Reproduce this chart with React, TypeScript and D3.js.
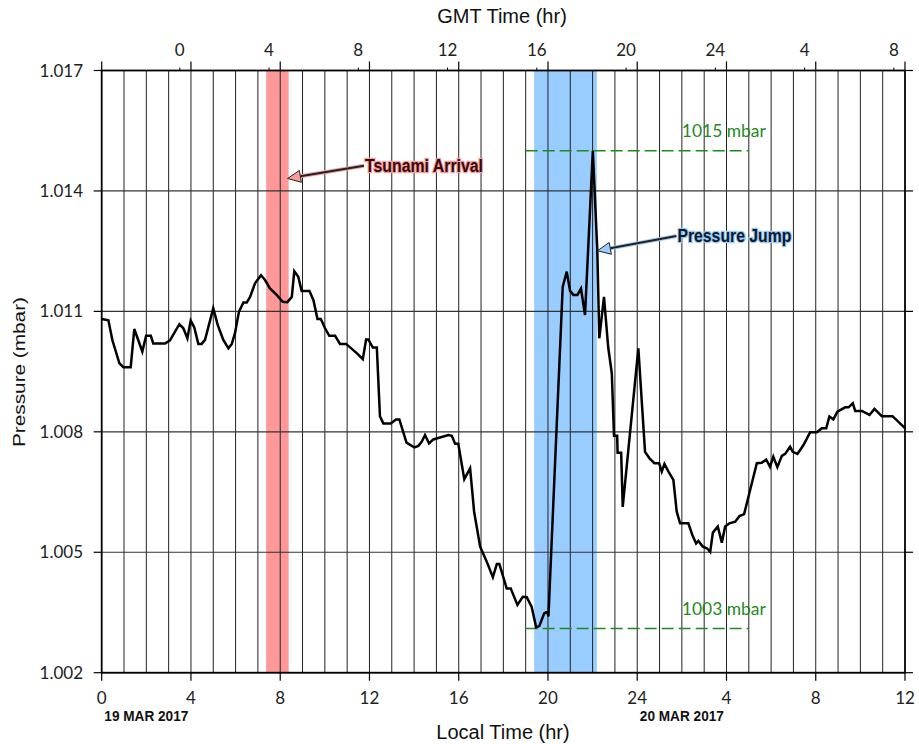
import React from "react";
import * as d3 from "d3";

// local time (hours since 19 MAR 2017 00:00) and pressure
const hours = [
  0.0, 0.3, 0.48, 0.79, 0.97, 1.3, 1.46, 1.82, 1.99, 2.2, 2.31, 2.84, 3.06, 3.48, 3.66, 3.84, 3.99, 4.15,
  4.33, 4.48, 4.63, 5.0, 5.2, 5.45, 5.68, 5.83, 5.97, 6.15, 6.35, 6.5, 6.65, 6.87, 7.14, 7.32, 7.54, 7.84,
  8.11, 8.32, 8.52, 8.63, 8.81, 8.96, 9.31, 9.49, 9.67, 9.82, 10.01, 10.2, 10.46, 10.68, 10.95, 11.43,
  11.7, 11.85, 11.95, 12.15, 12.33, 12.47, 12.62, 12.95, 13.19, 13.34, 13.66, 14.01, 14.19, 14.34, 14.49,
  14.67, 14.86, 15.16, 15.54, 15.69, 15.84, 15.98, 16.25, 16.51, 16.69, 16.96, 17.26, 17.53, 17.71, 17.82,
  18.15, 18.33, 18.63, 18.87, 19.05, 19.27, 19.47, 19.61, 19.83, 19.97, 20.02, 20.66, 20.84, 20.99, 21.14,
  21.32, 21.48, 21.66, 22.01, 22.21, 22.3, 22.51, 22.7, 22.86, 22.96, 23.1, 23.12, 23.28, 23.35, 24.05,
  24.35, 24.55, 24.77, 24.98, 25.1, 25.22, 25.4, 25.62, 25.77, 25.92, 26.29, 26.47, 26.64, 26.74, 26.94,
  27.12, 27.27, 27.39, 27.61, 27.79, 27.94, 28.13, 28.39, 28.58, 28.79, 29.06, 29.36, 29.58, 29.78, 29.95,
  30.1, 30.28, 30.48, 30.63, 30.85, 30.97, 31.18, 31.45, 31.75, 32.05, 32.27, 32.47, 32.61, 32.79, 32.97,
  33.32, 33.47, 33.66, 33.77, 34.07, 34.41, 34.63, 34.96, 35.44, 36.0,
];
const pressure = [
  1.01081, 1.01078, 1.01028, 1.00971, 1.00961, 1.00961, 1.01056, 1.01, 1.01039, 1.01039, 1.0102, 1.0102,
  1.01028, 1.01068, 1.01058, 1.01033, 1.01077, 1.0106, 1.01019, 1.01019, 1.01029, 1.01108, 1.01066,
  1.01029, 1.01008, 1.01019, 1.01045, 1.01099, 1.01122, 1.01122, 1.01136, 1.0117, 1.0119, 1.01178,
  1.01157, 1.01141, 1.01124, 1.01123, 1.01136, 1.012, 1.01186, 1.01151, 1.01151, 1.01128, 1.01081,
  1.01081, 1.01058, 1.01039, 1.01039, 1.01019, 1.01019, 1.00996, 1.00981, 1.0103, 1.0103, 1.0101, 1.0101,
  1.00839, 1.00821, 1.00821, 1.00831, 1.00831, 1.00773, 1.00761, 1.00765, 1.00775, 1.00792, 1.00771,
  1.00781, 1.00786, 1.00792, 1.0079, 1.0077, 1.0077, 1.00682, 1.00709, 1.00601, 1.00514, 1.00476,
  1.00438, 1.00471, 1.00471, 1.0041, 1.0041, 1.00369, 1.00389, 1.00388, 1.00364, 1.00313, 1.00316,
  1.00348, 1.00352, 1.0034, 1.01161, 1.01199, 1.01151, 1.01141, 1.01141, 1.01157, 1.01091, 1.015,
  1.01253, 1.01033, 1.01136, 1.0101, 1.00946, 1.0079, 1.0079, 1.00748, 1.00748, 1.00613, 1.01008,
  1.0075, 1.00734, 1.00722, 1.00722, 1.00701, 1.0072, 1.00701, 1.0068, 1.00601, 1.00572, 1.00572,
  1.00543, 1.00522, 1.00528, 1.00514, 1.0051, 1.00501, 1.00549, 1.00564, 1.00524, 1.00564, 1.00572,
  1.00576, 1.0059, 1.00595, 1.00655, 1.00722, 1.00723, 1.00731, 1.00713, 1.00738, 1.00712, 1.0074,
  1.00745, 1.00763, 1.0075, 1.00745, 1.00767, 1.00799, 1.00799, 1.00809, 1.00809, 1.00838, 1.00831,
  1.0085, 1.00861, 1.00861, 1.00871, 1.00852, 1.00852, 1.00842, 1.00857, 1.00839, 1.00839, 1.00809,
];

const localTicks = [0, 4, 8, 12, 16, 20, 24, 28, 32, 36];
const localTickLabels = ["0", "4", "8", "12", "16", "20", "24", "4", "8", "12"];
const gmtTicks = [3.5, 7.5, 11.5, 15.5, 19.5, 23.5, 27.5, 31.5, 35.5]; // GMT = local - 3.5
const gmtTickLabels = ["0", "4", "8", "12", "16", "20", "24", "4", "8"];
const yTicks = [1.002, 1.005, 1.008, 1.011, 1.014, 1.017];
const dateLabels = [
  { at: 2, text: "19 MAR 2017" },
  { at: 26, text: "20 MAR 2017" },
];
const bands = [
  { from: 7.37, to: 8.38, color: "#ff9999" },
  { from: 19.38, to: 22.19, color: "#99ccff" },
];
const refLines = [
  { value: 1.015, text: "1015 mbar" },
  { value: 1.0031, text: "1003 mbar" },
];
const notes = [
  { text: "Tsunami Arrival", tx: 11.8, ty: 1.01448, px: 8.33, py: 1.01431, fill: "#3a0808", halo: "#f4a0a0", head: "#ff9999", len: 118 },
  { text: "Pressure Jump", tx: 25.8, ty: 1.01273, px: 22.22, py: 1.01251, fill: "#0a1a30", halo: "#9cc8f0", head: "#99ccff", len: 114 },
];

const W = 919;
const H = 744;
const left = 101.7, right = 905, top = 70.5, bottom = 672.7;
const tickFont = "'Century Gothic', 'Lato', 'Open Sans', sans-serif";

export default function App() {
  const x = d3.scaleLinear().domain([0, 36]).range([left, right]);
  const y = d3.scaleLinear().domain([1.002, 1.017]).range([bottom, top]);
  const line = d3.line<number>().x((_, i) => x(hours[i])).y((d) => y(d));
  const hourGrid = d3.range(1, 36);

  return (
    <svg width={W} height={H} style={{ position: "absolute", left: 0, top: 0, background: "#fff" }}>
      {bands.map((b, i) => (
        <rect key={i} x={x(b.from)} y={top} width={x(b.to) - x(b.from)} height={bottom - top} fill={b.color} />
      ))}
      {hourGrid.map((h) => (
        <line key={h} x1={x(h)} x2={x(h)} y1={top} y2={bottom} stroke="#222" strokeWidth={1} />
      ))}
      {yTicks.map((t) => (
        <line key={t} x1={left} x2={right} y1={y(t)} y2={y(t)} stroke="#333" strokeWidth={1.2} />
      ))}

      {refLines.map((r, i) => (
        <g key={i}>
          <line x1={x(19)} x2={x(29)} y1={y(r.value)} y2={y(r.value)} stroke="#1f8a1f" strokeWidth={1.5} strokeDasharray="12,5" />
          <text x={x(26)} y={y(r.value) - 13.5} fontFamily={tickFont} fontSize={16.5} textLength={84}
            lengthAdjust="spacingAndGlyphs" fill="#1f8a1f">{r.text}</text>
        </g>
      ))}

      <path d={line(pressure) || ""} fill="none" stroke="#000" strokeWidth={2.5} strokeLinejoin="miter" />

      {/* frame */}
      <rect x={left} y={top} width={right - left} height={bottom - top} fill="none" stroke="#000" strokeWidth={1.8} />

      {/* left / right ticks */}
      {yTicks.map((t) => (
        <g key={t}>
          <line x1={left - 8} x2={left} y1={y(t)} y2={y(t)} stroke="#000" strokeWidth={1.2} />
          <line x1={right} x2={right + 8} y1={y(t)} y2={y(t)} stroke="#000" strokeWidth={1.2} />
          <text x={83} y={y(t) + 6} textAnchor="end" fontFamily={tickFont} fontSize={17} fill="#222">{t.toFixed(3)}</text>
        </g>
      ))}

      {/* bottom / top ticks */}
      {localTicks.map((t, i) => (
        <g key={t}>
          <line x1={x(t)} x2={x(t)} y1={bottom} y2={bottom + 8} stroke="#000" strokeWidth={1.2} />
          <line x1={x(t)} x2={x(t)} y1={top - 9} y2={top} stroke="#000" strokeWidth={1.2} />
          <text x={x(t)} y={704} textAnchor="middle" fontFamily={tickFont} fontSize={17} fill="#222">{localTickLabels[i]}</text>
        </g>
      ))}
      {gmtTicks.map((t, i) => (
        <g key={t}>
          <line x1={x(t)} x2={x(t)} y1={top - 3} y2={top} stroke="#000" strokeWidth={1} />
          <text x={x(t)} y={55.5} textAnchor="middle" fontFamily={tickFont} fontSize={17} fill="#222">{gmtTickLabels[i]}</text>
        </g>
      ))}

      {dateLabels.map((d) => (
        <text key={d.text} x={x(d.at)} y={720.5} textAnchor="middle" fontFamily="'Liberation Sans', Arial, sans-serif"
          fontWeight="bold" fontSize={14} textLength={84} lengthAdjust="spacingAndGlyphs" fill="#111">{d.text}</text>
      ))}

      {/* axis titles */}
      <text x={502} y={23} textAnchor="middle" fontFamily="'Liberation Sans', Arial, sans-serif" fontSize={20} fill="#111">GMT Time (hr)</text>
      <text x={503} y={739} textAnchor="middle" fontFamily="'Liberation Sans', Arial, sans-serif" fontSize={20} fill="#111">Local Time (hr)</text>
      <text transform="translate(25,372) rotate(-90)" textAnchor="middle" fontFamily="'Liberation Sans', Arial, sans-serif"
        fontSize={16} textLength={150} lengthAdjust="spacingAndGlyphs" fill="#111">Pressure (mbar)</text>

      {/* annotations */}
      {notes.map((n) => {
        const x0 = x(n.tx) - 1, y0 = y(n.ty) - 6;
        const x1 = x(n.px), y1 = y(n.py);
        const ang = Math.atan2(y1 - y0, x1 - x0);
        const hl = 13, hw = 6;
        const bx = x1 - hl * Math.cos(ang), by = y1 - hl * Math.sin(ang);
        const p1 = [bx + hw * Math.sin(ang), by - hw * Math.cos(ang)];
        const p2 = [bx - hw * Math.sin(ang), by + hw * Math.cos(ang)];
        return (
          <g key={n.text}>
            <line x1={x0} y1={y0} x2={bx} y2={by} stroke={n.halo} strokeWidth={4} />
            <line x1={x0} y1={y0} x2={bx} y2={by} stroke="#222" strokeWidth={2} />
            <polygon points={`${x1},${y1} ${p1[0]},${p1[1]} ${p2[0]},${p2[1]}`} fill={n.head} stroke="#222" strokeWidth={1} />
            <text x={x(n.tx)} y={y(n.ty)} fontFamily="'Liberation Sans', Arial, sans-serif" fontWeight="bold" fontSize={18}
              textLength={n.len} lengthAdjust="spacingAndGlyphs" fill={n.fill} stroke={n.halo} strokeWidth={2.5}
              style={{ paintOrder: "stroke" }}>{n.text}</text>
          </g>
        );
      })}
    </svg>
  );
}
